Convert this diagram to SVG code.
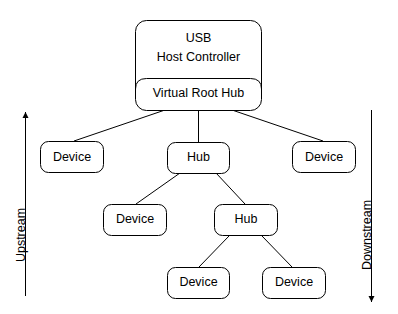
<svg xmlns="http://www.w3.org/2000/svg" width="398" height="314" viewBox="0 0 398 314">
<style>
.n{fill:#fff;stroke:#000;stroke-width:1}
.t{font-family:"Liberation Sans",Arial,sans-serif;font-size:12.5px;fill:#000;text-anchor:middle;dominant-baseline:central}
.c{stroke:#000;stroke-width:1;fill:none}
</style>
<defs>
<marker id="ah" viewBox="0 0 6 8" refX="6" refY="4" markerWidth="6" markerHeight="8" orient="auto" markerUnits="userSpaceOnUse">
<path d="M0,1 L6,4 L0,7 Z" fill="#000"/>
</marker>
</defs>
<rect width="398" height="314" fill="#fff"/>
<g id="connectors">
<line class="c" x1="165" y1="110" x2="74" y2="141"/>
<line class="c" x1="198.5" y1="110" x2="198.5" y2="142"/>
<line class="c" x1="232" y1="110" x2="323" y2="141"/>
<line class="c" x1="180" y1="173" x2="136" y2="204"/>
<line class="c" x1="216" y1="173" x2="245" y2="204"/>
<line class="c" x1="229" y1="236" x2="199" y2="267"/>
<line class="c" x1="262" y1="236" x2="292" y2="267"/>
<line class="c" x1="25.5" y1="296" x2="25.5" y2="112" marker-end="url(#ah)"/>
<line class="c" x1="371.5" y1="110" x2="371.5" y2="302" marker-end="url(#ah)"/>
</g>
<g id="host">
<rect class="n" x="135.5" y="20.5" width="126" height="90" rx="11"/>
<path class="c" d="M135.5,89 Q135.5,78.5 146.5,78.5 L250.5,78.5 Q261.5,78.5 261.5,89"/>
<text class="t" x="198.5" y="38">USB</text>
<text class="t" x="198.5" y="57">Host Controller</text>
<text class="t" x="198.5" y="93">Virtual Root Hub</text>
</g>
<g id="dev1">
<rect class="n" x="40.5" y="141.5" width="63" height="31" rx="8"/>
<text class="t" x="72" y="157">Device</text>
</g>
<g id="hub1">
<rect class="n" x="167.5" y="142.5" width="62" height="31" rx="8"/>
<text class="t" x="198.5" y="157">Hub</text>
</g>
<g id="dev2">
<rect class="n" x="292.5" y="141.5" width="63" height="31" rx="8"/>
<text class="t" x="324" y="157">Device</text>
</g>
<g id="dev3">
<rect class="n" x="103.5" y="204.5" width="63" height="31" rx="8"/>
<text class="t" x="135" y="219">Device</text>
</g>
<g id="hub2">
<rect class="n" x="214.5" y="204.5" width="63" height="31" rx="8"/>
<text class="t" x="246" y="219">Hub</text>
</g>
<g id="dev4">
<rect class="n" x="167.5" y="267.5" width="62" height="31" rx="8"/>
<text class="t" x="198.5" y="282">Device</text>
</g>
<g id="dev5">
<rect class="n" x="262.5" y="267.5" width="63" height="31" rx="8"/>
<text class="t" x="294" y="282">Device</text>
</g>
<g id="labels">
<text class="t" transform="translate(20.5,235) rotate(-90)">Upstream</text>
<text class="t" transform="translate(366.5,235) rotate(-90)">Downstream</text>
</g>
</svg>
